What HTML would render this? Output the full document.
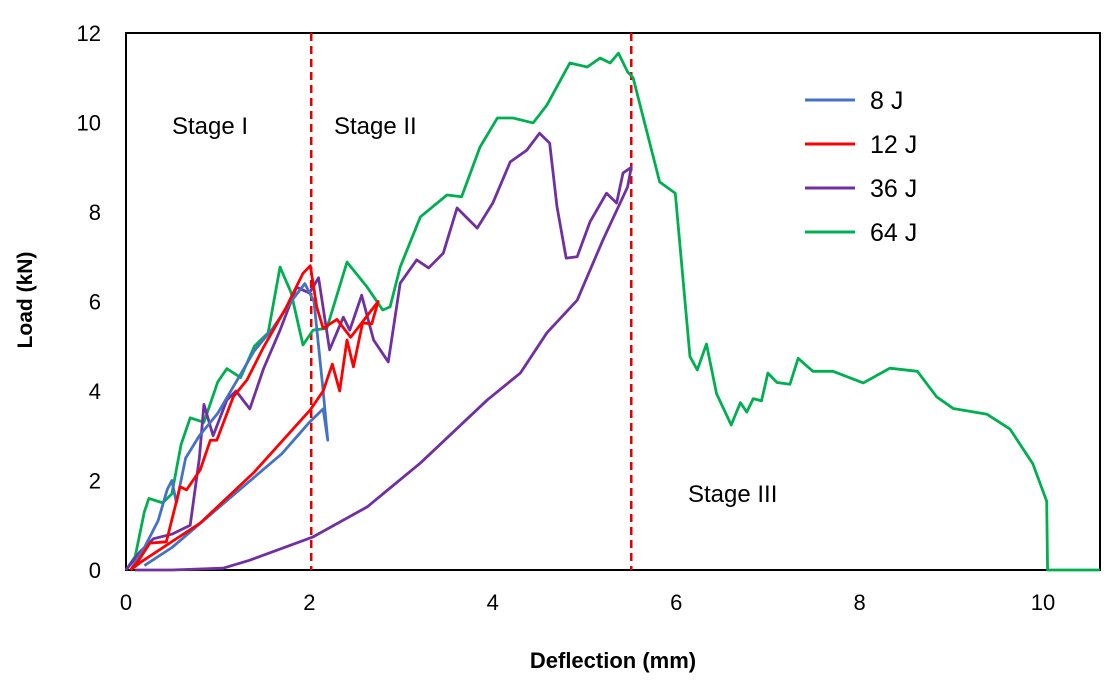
<!DOCTYPE html>
<html><head><meta charset="utf-8"><style>
body{margin:0;background:#fff;font-family:"Liberation Sans",sans-serif}
svg text{font-family:"Liberation Sans",sans-serif}
</style></head><body>
<svg id="c" width="1114" height="688">
<rect x="0" y="0" width="1114" height="688" fill="#fff"/>
<rect x="126" y="33" width="974" height="537" fill="none" stroke="#000" stroke-width="2"/>
<g id="ticks"></g>
<g id="series"></g>
<text x="32" y="300" font-size="21" font-weight="bold" text-anchor="middle" transform="rotate(-90 32 300)">Load (kN)</text>
<text x="613" y="668" font-size="22" font-weight="bold" text-anchor="middle">Deflection (mm)</text>
<text x="172" y="134" font-size="24">Stage I</text>
<text x="334" y="134" font-size="24">Stage II</text>
<text x="688" y="502" font-size="24">Stage III</text>
<g id="legend"></g>
</svg>
<script>
const xTicks=[0,2,4,6,8,10];
const yTicks=[0,2,4,6,8,10,12];
const stageLines=[2.02,5.51];
const seriesNames=["8 J","12 J","36 J","64 J"];
const seriesColors=["#4472c4","#ff0000","#7030a0","#00b050"];
const s8=[[0.05,0],[0.2,0.5],[0.35,1.1],[0.45,1.8],[0.5,2.0],[0.55,1.5],[0.65,2.5],[0.8,3.0],[1.0,3.5],[1.2,4.2],[1.4,4.9],[1.6,5.4],[1.8,6.0],[1.95,6.4],[2.05,6.0],[2.1,5.0],[2.15,4.0],[2.2,2.9],[2.15,3.6],[2.0,3.3],[1.7,2.6],[1.3,1.9],[0.9,1.2],[0.5,0.5],[0.2,0.1]];
const s12=[[0.05,0],[0.12,0.16],[0.26,0.6],[0.44,0.63],[0.59,1.86],[0.66,1.79],[0.81,2.24],[0.92,2.9],[0.99,2.9],[1.17,3.87],[1.32,4.25],[1.5,4.98],[1.75,5.88],[1.93,6.63],[2.01,6.8],[2.08,5.88],[2.15,5.4],[2.3,5.6],[2.45,5.2],[2.6,5.6],[2.75,6.0],[2.68,5.5],[2.58,5.52],[2.48,4.54],[2.41,5.14],[2.33,4.0],[2.25,4.6],[2.15,4.0],[2.01,3.58],[1.39,2.17],[0.81,1.05],[0.15,0.16],[0.05,0]];
const s36=[[0,0],[0.15,0.4],[0.3,0.7],[0.5,0.8],[0.7,1.0],[0.8,2.5],[0.85,3.7],[0.95,3.0],[1.1,3.8],[1.2,4.0],[1.35,3.6],[1.5,4.5],[1.68,5.36],[1.86,6.32],[2.0,6.19],[2.1,6.53],[2.22,4.92],[2.37,5.65],[2.44,5.36],[2.57,6.14],[2.7,5.14],[2.86,4.65],[2.99,6.41],[3.17,6.93],[3.3,6.75],[3.46,7.08],[3.61,8.09],[3.83,7.64],[4.0,8.2],[4.19,9.12],[4.37,9.38],[4.51,9.76],[4.62,9.54],[4.7,8.12],[4.8,6.97],[4.92,7.0],[5.06,7.78],[5.24,8.42],[5.35,8.2],[5.42,8.87],[5.51,9.0],[5.47,8.56],[5.2,7.37],[4.92,6.03],[4.59,5.3],[4.3,4.4],[3.94,3.8],[3.21,2.39],[2.63,1.41],[2.04,0.74],[1.35,0.22],[1.06,0.04],[0.5,0],[0.1,0]];
const s64=[[0,0],[0.1,0.3],[0.2,1.3],[0.25,1.6],[0.4,1.5],[0.5,1.7],[0.6,2.8],[0.7,3.4],[0.85,3.3],[1.0,4.2],[1.1,4.5],[1.25,4.3],[1.4,5.0],[1.55,5.3],[1.68,6.77],[1.8,6.2],[1.93,5.03],[2.04,5.36],[2.19,5.4],[2.41,6.88],[2.63,6.32],[2.8,5.81],[2.88,5.88],[2.99,6.77],[3.21,7.89],[3.5,8.38],[3.66,8.34],[3.86,9.45],[4.05,10.1],[4.22,10.1],[4.44,9.99],[4.59,10.39],[4.84,11.33],[5.03,11.24],[5.17,11.44],[5.28,11.33],[5.37,11.55],[5.47,11.13],[5.53,11.0],[5.82,8.67],[5.99,8.42],[6.15,4.77],[6.23,4.47],[6.33,5.05],[6.44,3.94],[6.6,3.24],[6.7,3.74],[6.77,3.53],[6.84,3.83],[6.93,3.78],[7.0,4.4],[7.1,4.19],[7.24,4.15],[7.33,4.73],[7.49,4.44],[7.71,4.44],[8.04,4.18],[8.33,4.51],[8.63,4.44],[8.84,3.87],[9.02,3.61],[9.39,3.48],[9.64,3.15],[9.89,2.37],[10.04,1.54],[10.05,0],[10.62,0]];
const allSeries=[s8,s12,s36,s64];
const NS="http://www.w3.org/2000/svg";
const X=v=>126+v*91.7, Y=v=>570-v*44.75;
function mk(tag,attrs,parent){const e=document.createElementNS(NS,tag);for(const k in attrs)e.setAttribute(k,attrs[k]);parent.appendChild(e);return e;}
const tg=document.getElementById('ticks');
xTicks.forEach(t=>{const e=mk('text',{x:X(t),y:610,'font-size':22,'text-anchor':'middle'},tg);e.textContent=t;

});
yTicks.forEach(t=>{const e=mk('text',{x:101,y:Y(t)+8,'font-size':22,'text-anchor':'end'},tg);e.textContent=t;

});
const sg=document.getElementById('series');
stageLines.forEach(v=>{const l=mk('line',{x1:X(v),x2:X(v),y1:33,y2:570,stroke:'#e00000','stroke-width':2.5,'stroke-dasharray':'8,5'},sg);

});
[3,2,0,1].forEach(i=>{const p=mk('polyline',{points:allSeries[i].map(d=>X(d[0])+','+Y(d[1])).join(' '),fill:'none',stroke:seriesColors[i],'stroke-width':2.8,'stroke-linejoin':'round'},sg);

});
const lg=document.getElementById('legend');
seriesNames.forEach((n,i)=>{const y=100+i*44;
const g=mk('g',{},lg);


mk('line',{x1:805,x2:855,y1:y,y2:y,stroke:seriesColors[i],'stroke-width':3},g);
const t=mk('text',{x:870,y:y+9,'font-size':25},g);t.textContent=n;});
</script>
</body></html>
